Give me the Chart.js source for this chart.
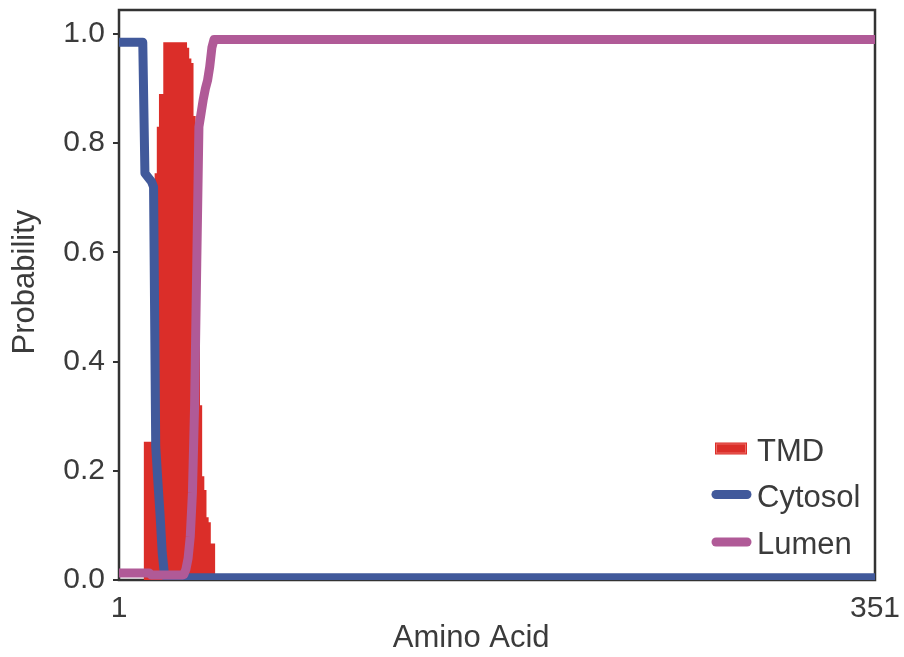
<!DOCTYPE html>
<html>
<head>
<meta charset="utf-8">
<script src="https://cdn.jsdelivr.net/npm/chart.js@4.4.1/dist/chart.umd.min.js"></script>
<style>
  html, body { margin: 0; padding: 0; background: #fff; }
</style>
</head>
<body>
<canvas id="topology" width="904" height="657"></canvas>
<script>
// Membrane topology chart

const residueTicks = [1, 351];
const probabilityTicks = [0, 0.2, 0.4, 0.6, 0.8, 1.0];

const tmdResidue = [1, 12, 13, 14, 15, 16, 17, 18, 19, 20, 21, 22, 23, 24, 25, 26, 27, 28, 29, 30, 31, 32,
  33, 34, 35, 36, 37, 38, 39, 40, 41, 42, 43, 44, 45, 46, 351];
const tmdProb = [0, 0, 0.253, 0.253, 0.253, 0.253, 0.5, 0.745, 0.83, 0.89, 0.89, 0.985, 0.985, 0.985, 0.985, 0.985, 0.985, 0.985, 0.985, 0.985, 0.985, 0.985,
  0.975, 0.955, 0.947, 0.85, 0.65, 0.45, 0.32, 0.19, 0.165, 0.115, 0.106, 0.067, 0.067, 0, 0];

const cytosolResidue = [1, 12, 13, 14, 15, 16, 17, 18, 19, 20, 21, 22, 23, 351];
const cytosolProb = [0.985, 0.985, 0.745, 0.74, 0.735, 0.73, 0.72, 0.245, 0.18, 0.12, 0.05, 0.012, 0.004, 0.004];

const lumenResidue = [1, 15, 16, 30, 31, 32, 33, 34, 35, 36, 37, 38, 39, 40, 41, 42, 43, 44, 45, 351];
const lumenProb = [0.013, 0.013, 0.009, 0.009, 0.01, 0.02, 0.04, 0.08, 0.16, 0.32, 0.58, 0.83, 0.855, 0.88, 0.9, 0.915, 0.94, 0.975, 0.99, 0.99];

const TEXT_COLOR = '#3b3b3b';
const FONT = "'Liberation Sans', Arial, sans-serif";

function toPoints(xs, ys) {
  return xs.map(function(x, i) { return { x: x, y: ys[i] }; });
}

// frame around the plot, under the lines
const framePlugin = {
  id: 'frame',
  beforeDatasetsDraw: function(chart) {
    const a = chart.chartArea;
    const ctx = chart.ctx;
    ctx.save();
    ctx.strokeStyle = '#333';
    ctx.lineWidth = 2.5;
    ctx.strokeRect(a.left, a.top, a.right - a.left, a.bottom - a.top);
    ctx.restore();
  }
};

// legend in the lower right corner of the plot
const cornerLegendPlugin = {
  id: 'cornerLegend',
  afterDatasetsDraw: function(chart) {
    const a = chart.chartArea;
    const ctx = chart.ctx;
    const rows = [a.bottom - 131.5, a.bottom - 85.5, a.bottom - 38];
    ctx.save();
    chart.data.datasets.forEach(function(ds, i) {
      const y = rows[i];
      if (ds.fill) {
        ctx.fillStyle = ds.backgroundColor;
        ctx.fillRect(a.right - 160, y - 6, 32, 12);
        ctx.strokeStyle = '#ec6b64';
        ctx.lineWidth = 1;
        ctx.strokeRect(a.right - 158.5, y - 4.5, 29, 9);
      } else {
        ctx.strokeStyle = ds.borderColor;
        ctx.lineWidth = 9;
        ctx.lineCap = 'round';
        ctx.beginPath();
        ctx.moveTo(a.right - 159, y);
        ctx.lineTo(a.right - 128, y);
        ctx.stroke();
      }
      ctx.fillStyle = TEXT_COLOR;
      ctx.font = '31px ' + FONT;
      ctx.textBaseline = 'alphabetic';
      ctx.fillText(ds.label, a.right - 118, y + 12);
    });
    ctx.restore();
  }
};

const topologyChart = new Chart(document.getElementById('topology'), {
  type: 'line',
  data: {
    datasets: [{
      label: 'TMD',
      data: toPoints(tmdResidue, tmdProb),
      stepped: 'middle',
      fill: 'origin',
      backgroundColor: '#db2e29',
      borderWidth: 0,
      order: 3
    }, {
      label: 'Cytosol',
      data: toPoints(cytosolResidue, cytosolProb),
      borderColor: '#41599b',
      borderWidth: 9,
      borderJoinStyle: 'round',
      order: 2
    }, {
      label: 'Lumen',
      data: toPoints(lumenResidue, lumenProb),
      borderColor: '#b05a97',
      borderWidth: 9,
      borderJoinStyle: 'round',
      order: 1
    }]
  },
  options: {
    responsive: false,
    animation: false,
    devicePixelRatio: 1,
    layout: { padding: { left: 0, right: 29, top: 10, bottom: 0 } },
    elements: { point: { radius: 0, hitRadius: 0 }, line: { tension: 0 } },
    plugins: { legend: { display: false }, tooltip: { enabled: false } },
    scales: {
      x: {
        type: 'linear',
        min: 1,
        max: 351,
        afterBuildTicks: function(scale) {
          scale.ticks = residueTicks.map(function(v) { return { value: v }; });
        },
        afterFit: function(scale) {
          scale.height = 77;
          scale.paddingLeft = 0;
          scale.paddingRight = 0;
        },
        grid: { display: false, drawTicks: false },
        border: { display: false },
        ticks: {
          autoSkip: false,
          maxRotation: 0,
          padding: 11,
          color: TEXT_COLOR,
          font: { family: FONT, size: 30 },
          callback: function(value) { return String(value); }
        },
        title: {
          display: true,
          text: 'Amino Acid      ',
          color: TEXT_COLOR,
          font: { family: FONT, size: 31 },
          padding: { top: 0, bottom: 0 }
        }
      },
      y: {
        type: 'linear',
        min: 0,
        max: 1.044,
        afterBuildTicks: function(scale) {
          scale.ticks = probabilityTicks.map(function(v) { return { value: v }; });
        },
        afterFit: function(scale) {
          scale.width = 119;
          scale.paddingTop = 0;
          scale.paddingBottom = 0;
        },
        grid: { display: true, drawOnChartArea: false, drawTicks: true, tickLength: 6, color: '#333', lineWidth: 2 },
        border: { display: false },
        ticks: {
          padding: 8,
          color: TEXT_COLOR,
          font: { family: FONT, size: 30 },
          callback: function(value) { return value.toFixed(1); }
        },
        title: {
          display: true,
          text: '   Probability',
          color: TEXT_COLOR,
          font: { family: FONT, size: 31 },
          padding: { top: 7, bottom: 0 }
        }
      }
    }
  },
  plugins: [framePlugin, cornerLegendPlugin]
});
</script>
</body>
</html>
